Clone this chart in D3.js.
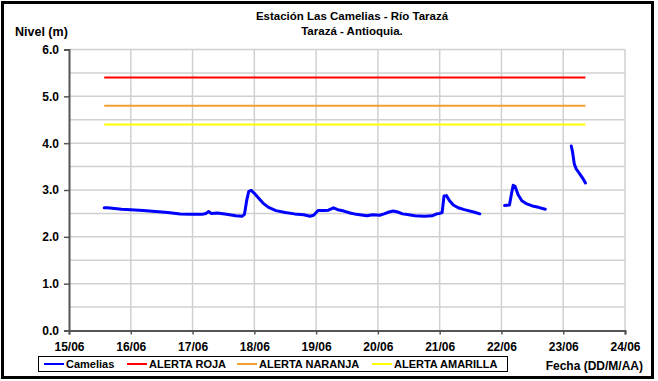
<!DOCTYPE html>
<html><head><meta charset="utf-8">
<script src="https://cdn.jsdelivr.net/npm/d3@7"></script>
<style>
html,body{margin:0;padding:0;background:#fff;}
svg text{font-family:"Liberation Sans",Arial,sans-serif;font-weight:bold;fill:#000;}
</style></head>
<body><svg id="c" width="658" height="381"></svg>
<script>
// ---- data ----
const titleLines = ["Estación Las Camelias - Río Tarazá", "Tarazá - Antioquia."];
const yLabel = "Nivel (m)";
const xLabel = "Fecha (DD/M/AA)";
const xTickDays = [15,16,17,18,19,20,21,22,23,24];
const xTickLabels = ["15/06","16/06","17/06","18/06","19/06","20/06","21/06","22/06","23/06","24/06"];
const yTicks = [0,1,2,3,4,5,6];
const seriesName = "Camelias";
// day of June (fractional) and water level (m); null = gap
const camDay = [15.57,15.62,15.70,15.85,16.00,16.20,16.40,16.60,16.80,16.98,17.15,17.22,17.26,17.30,17.40,17.55,17.70,17.80,17.84,17.88,17.91,17.95,18.00,18.06,18.14,18.23,18.35,18.50,18.65,18.80,18.90,18.96,19.03,19.14,19.20,19.28,19.35,19.45,19.55,19.65,19.82,19.92,20.03,20.10,20.18,20.25,20.32,20.40,20.50,20.60,20.75,20.88,20.95,21.00,21.04,21.07,21.11,21.16,21.22,21.30,21.40,21.55,21.65,
  21.85,
  22.05,22.13,22.16,22.19,22.22,22.27,22.33,22.40,22.50,22.60,22.71,
  22.90,
  23.13,23.15,23.18,23.21,23.27,23.33,23.36];
const camLevel = [2.62,2.62,2.61,2.59,2.58,2.56,2.54,2.52,2.49,2.48,2.48,2.50,2.54,2.50,2.51,2.48,2.45,2.44,2.48,2.80,2.97,2.99,2.93,2.84,2.72,2.63,2.56,2.52,2.49,2.47,2.44,2.46,2.56,2.56,2.57,2.62,2.58,2.55,2.51,2.48,2.45,2.47,2.46,2.49,2.53,2.55,2.53,2.49,2.47,2.45,2.44,2.45,2.49,2.50,2.52,2.87,2.88,2.77,2.68,2.62,2.58,2.53,2.49,
  null,
  2.67,2.68,2.90,3.10,3.08,2.90,2.77,2.71,2.66,2.63,2.59,
  null,
  3.94,3.82,3.55,3.45,3.34,3.22,3.15];
const alertNames = ["ALERTA ROJA","ALERTA NARANJA","ALERTA AMARILLA"];
const alertValues = [5.4, 4.8, 4.4];

// ---- styles ----
const alertColors = {"ALERTA ROJA":"#ff0000","ALERTA NARANJA":"#f0a030","ALERTA AMARILLA":"#ffff00"};
const seriesColor = "#0000ff";

const svg = d3.select("#c");
const m = {l:69, r:625, t:49.5, b:330.5};
const x = d3.scaleLinear().domain([15,24]).range([m.l, m.r]);
const y = d3.scaleLinear().domain([0,6]).range([m.b, m.t]);

// outer frame
svg.append("rect").attr("x",2.5).attr("y",2.5).attr("width",650).attr("height",375)
  .attr("fill","none").attr("stroke","#000").attr("stroke-width",3);

// gridlines
const g = svg.append("g");
g.selectAll(".hg").data(d3.range(0.5,6.01,0.5)).join("line")
  .attr("x1",m.l).attr("x2",m.r).attr("y1",d=>y(d)).attr("y2",d=>y(d))
  .attr("stroke","#d0d0d0").attr("stroke-width",1.5);
g.selectAll(".vg").data(xTickDays.slice(1)).join("line")
  .attr("x1",d=>x(d)).attr("x2",d=>x(d)).attr("y1",m.t).attr("y2",m.b)
  .attr("stroke","#d0d0d0").attr("stroke-width",1.5);

// axes
const yAxis = svg.append("g").attr("transform",`translate(${m.l},0)`)
  .call(d3.axisLeft(y).tickValues(yTicks).tickFormat(d3.format(".1f")).tickSize(5).tickPadding(5));
const xAxis = svg.append("g").attr("transform",`translate(0,${m.b})`)
  .call(d3.axisBottom(x).tickValues(xTickDays).tickFormat((d,i)=>xTickLabels[i]).tickSize(4).tickPadding(8));
[yAxis,xAxis].forEach(a=>{
  a.select(".domain").attr("stroke","#555").attr("stroke-width",2);
  a.selectAll(".tick line").attr("stroke","#555").attr("stroke-width",1.5);
  a.selectAll("text").attr("font-size",12).attr("font-family","Liberation Sans, Arial").attr("font-weight","bold").attr("fill","#000");
});

// alert lines
const ext = d3.extent(camDay);
svg.selectAll(".alert").data(alertNames).join("line")
  .attr("x1",x(ext[0])).attr("x2",x(ext[1]))
  .attr("y1",(d,i)=>y(alertValues[i])).attr("y2",(d,i)=>y(alertValues[i]))
  .attr("stroke",d=>alertColors[d]).attr("stroke-width",2);

// series
const pts = camDay.map((d,i)=>[d,camLevel[i]]);
svg.append("path").datum(pts)
  .attr("d", d3.line().defined(p=>p[1]!==null).x(p=>x(p[0])).y(p=>y(p[1])))
  .attr("fill","none").attr("stroke",seriesColor).attr("stroke-width",3)
  .attr("stroke-linejoin","round").attr("stroke-linecap","round");

// titles
svg.selectAll(".title").data(titleLines).join("text")
  .attr("x",352).attr("y",(d,i)=>20+i*15).attr("text-anchor","middle").attr("font-size",11.5).text(d=>d);
svg.append("text").attr("x",15).attr("y",36).attr("font-size",12.5).text(yLabel);
svg.append("text").attr("x",643).attr("y",370).attr("text-anchor","end").attr("font-size",12).text(xLabel);

// legend
const lg = svg.append("g");
lg.append("rect").attr("x",38.5).attr("y",356.5).attr("width",469).attr("height",15)
  .attr("fill","#fff").attr("stroke","#000").attr("stroke-width",1);
const legItems = [seriesName].concat(alertNames);
const legColors = [seriesColor].concat(alertNames.map(n=>alertColors[n]));
const legX = [44,127,237,372];
legItems.forEach((name,i)=>{
  lg.append("line").attr("x1",legX[i]).attr("x2",legX[i]+20).attr("y1",364).attr("y2",364)
    .attr("stroke",legColors[i]).attr("stroke-width",2);
  lg.append("text").attr("x",legX[i]+22).attr("y",368).attr("font-size",11).text(name);
});
</script></body></html>
